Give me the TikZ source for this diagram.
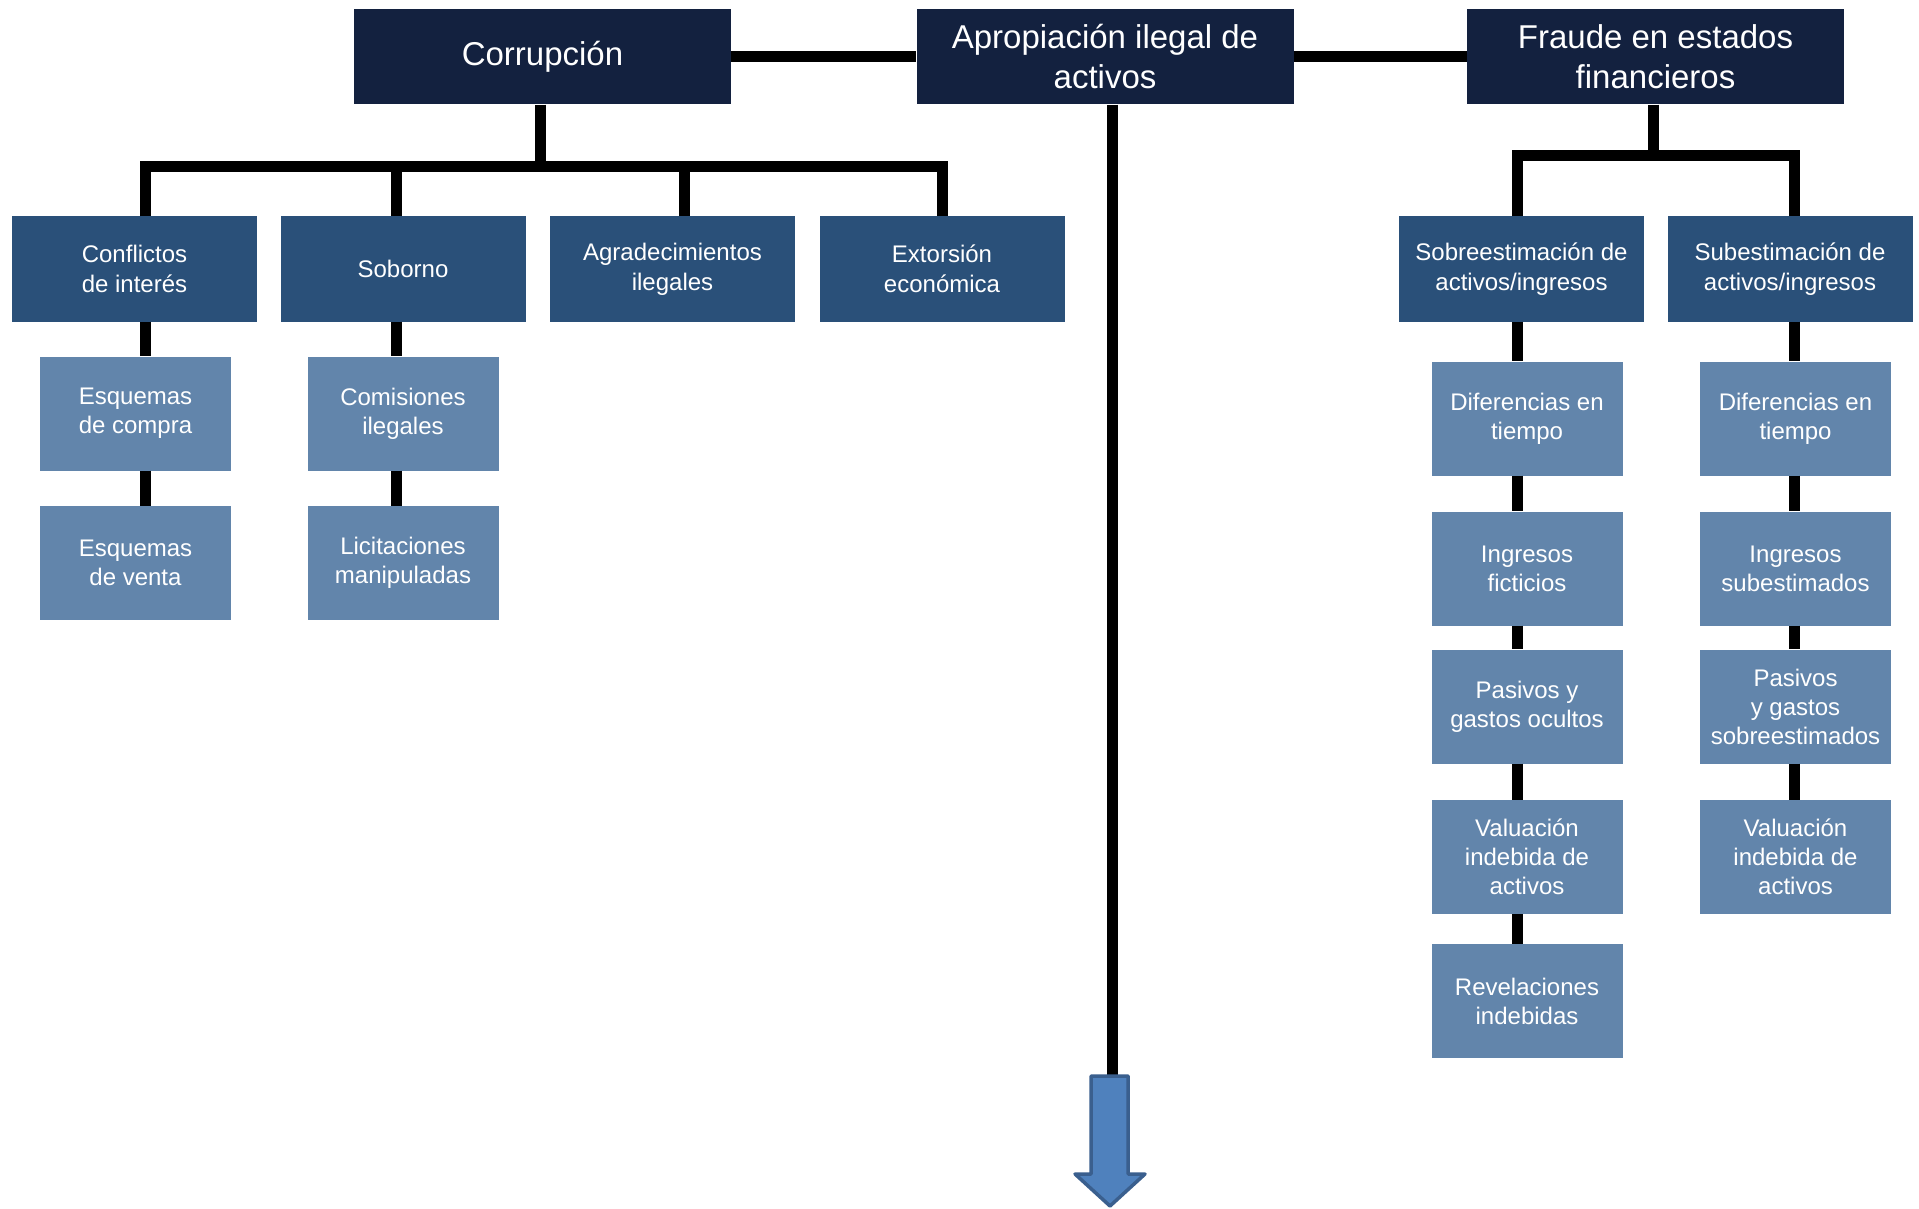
\documentclass[tikz,border=0pt]{standalone}
\usepackage{fontspec}
\setmainfont{Liberation Sans}
\definecolor{navy}{HTML}{13213F}
\definecolor{midblue}{HTML}{2A5079}
\definecolor{lightblue}{HTML}{6285AB}
\definecolor{arrowfill}{HTML}{4F81BD}
\definecolor{arrowedge}{HTML}{3A5F8E}
\tikzset{
  topbox/.style={rectangle, fill=navy, text=white, inner sep=0pt, align=center,
    minimum width=377pt, minimum height=95pt, font=\fontsize{33}{40}\selectfont},
  midbox/.style={rectangle, fill=midblue, text=white, inner sep=0pt, align=center,
    minimum width=245pt, minimum height=105pt, font=\fontsize{24}{30}\selectfont},
  leafbox/.style={rectangle, fill=lightblue, text=white, inner sep=0pt, align=center,
    minimum width=191pt, minimum height=114pt, font=\fontsize{24}{29}\selectfont},
  link/.style={line width=11pt, draw=black},
}
\begin{document}
\begin{tikzpicture}[x=1pt, y=-1pt]
\useasboundingbox (0,0) rectangle (1919,1209);
\fill[white] (0,0) rectangle (1919,1209);

% x positions of the vertical links
\coordinate (xcorr) at (540,0);
\coordinate (xapro) at (1112,0);
\coordinate (xfra) at (1653,0);
\coordinate (xconf) at (145,0);
\coordinate (xsob) at (396,0);
\coordinate (xagr) at (684,0);
\coordinate (xext) at (942,0);
\coordinate (xsobre) at (1517,0);
\coordinate (xsube) at (1794,0);
% heights of the horizontal bars
\coordinate (ycorr) at (0,167);
\coordinate (yfra) at (0,156);

% ---- main categories ----
\node[topbox] (corr) at (542.5,57) {Corrupción};
\node[topbox] (apro) at (1105,57) {Apropiación ilegal de\\activos};
\node[topbox] (fra) at (1655.5,57) {Fraude en estados\\financieros};

% ---- second level ----
\node[midbox] (conf) at (134.5,269) {Conflictos\\de interés};
\node[midbox] (sob) at (403,269) {Soborno};
\node[midbox] (agr) at (672.5,269) {Agradecimientos\\ilegales};
\node[midbox] (ext) at (942,269) {Extorsión\\económica};
\node[midbox] (sobre) at (1521.5,269) {Sobreestimación de\\activos/ingresos};
\node[midbox] (sube) at (1790,269) {Subestimación de\\activos/ingresos};

% ---- corruption schemes ----
\node[leafbox] (esqc) at (135.5,413.5) {Esquemas\\de compra};
\node[leafbox] (esqv) at (135.5,563) {Esquemas\\de venta};
\node[leafbox] (com) at (403,413.5) {Comisiones\\ilegales};
\node[leafbox] (lic) at (403,563) {Licitaciones\\manipuladas};

% ---- overstatement ----
\node[leafbox] (difa) at (1527,418.5) {Diferencias en\\tiempo};
\node[leafbox] (inga) at (1527,568.5) {Ingresos\\ficticios};
\node[leafbox] (pasa) at (1527,706.5) {Pasivos y\\gastos ocultos};
\node[leafbox] (vala) at (1527,857) {Valuación\\indebida de\\activos};
\node[leafbox] (rev) at (1527,1001) {Revelaciones\\indebidas};

% ---- understatement ----
\node[leafbox] (difb) at (1795.5,418.5) {Diferencias en\\tiempo};
\node[leafbox] (ingb) at (1795.5,568.5) {Ingresos\\subestimados};
\node[leafbox] (pasb) at (1795.5,706.5) {Pasivos\\y gastos\\sobreestimados};
\node[leafbox] (valb) at (1795.5,857) {Valuación\\indebida de\\activos};

% ---- links between the main categories ----
\draw[link] (corr.east) -- (apro.west);
\draw[link] (apro.east) -- (fra.west);

% ---- corruption tree ----
\draw[link] (corr.south -| xcorr) -- (ycorr -| xcorr);
\draw[link] (conf.north -| xconf) |- (ycorr -| xext) -- (ext.north -| xext);
\draw[link] (ycorr -| xsob) -- (sob.north -| xsob);
\draw[link] (ycorr -| xagr) -- (agr.north -| xagr);

\draw[link] (conf.south -| xconf) -- (esqc.north -| xconf);
\draw[link] (esqc.south -| xconf) -- (esqv.north -| xconf);
\draw[link] (sob.south -| xsob) -- (com.north -| xsob);
\draw[link] (com.south -| xsob) -- (lic.north -| xsob);

% ---- financial statement fraud tree ----
\draw[link] (fra.south -| xfra) -- (yfra -| xfra);
\draw[link] (sobre.north -| xsobre) |- (yfra -| xsube) -- (sube.north -| xsube);

\draw[link] (sobre.south -| xsobre) -- (difa.north -| xsobre);
\draw[link] (difa.south -| xsobre) -- (inga.north -| xsobre);
\draw[link] (inga.south -| xsobre) -- (pasa.north -| xsobre);
\draw[link] (pasa.south -| xsobre) -- (vala.north -| xsobre);
\draw[link] (vala.south -| xsobre) -- (rev.north -| xsobre);

\draw[link] (sube.south -| xsube) -- (difb.north -| xsube);
\draw[link] (difb.south -| xsube) -- (ingb.north -| xsube);
\draw[link] (ingb.south -| xsube) -- (pasb.north -| xsube);
\draw[link] (pasb.south -| xsube) -- (valb.north -| xsube);

% ---- stem of asset misappropriation ending in a block arrow ----
\coordinate (arrtop) at (1112,1077);
\draw[link] (apro.south -| xapro) -- (arrtop);
\draw[fill=arrowfill, draw=arrowedge, line width=3.5pt, line join=round]
  (1091,1076) -- (1128,1076) -- (1128,1174) -- (1145,1174) -- (1110,1206)
  -- (1075,1174) -- (1091,1174) -- cycle;
\end{tikzpicture}
\end{document}
